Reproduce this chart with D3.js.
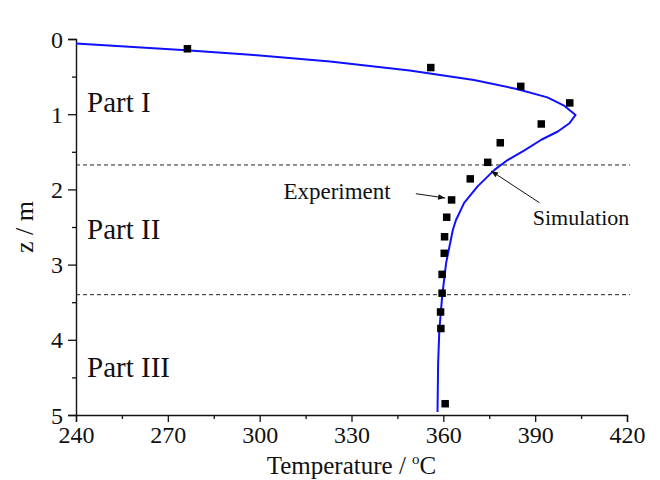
<!DOCTYPE html>
<html>
<head>
<meta charset="utf-8">
<script src="https://cdn.jsdelivr.net/npm/d3@7"></script>
<style>
  html, body { margin: 0; padding: 0; background: #fff; }
  svg text { font-family: "Liberation Serif", "Times New Roman", serif; fill: #111; }
</style>
</head>
<body>
<svg id="chart" width="660" height="480"></svg>
<script>
/* ── Data ───────────────────────────────────────────────────────────────── */
const simT = [240, 276, 297, 323, 349, 370, 384, 394, 399.6, 403.2, 401.2, 397.4, 392,
              386.5, 381, 376.7, 371.2, 366.8, 364.1, 363.1, 360.9, 359.6, 358.7, 358.3, 358.1];
const simZ = [0.06, 0.15, 0.21, 0.30, 0.42, 0.545, 0.665, 0.776, 0.89, 1.01, 1.12, 1.23, 1.34,
              1.48, 1.61, 1.74, 1.96, 2.18, 2.41, 2.54, 2.98, 3.43, 3.87, 4.31, 4.96];

const expT = [276.4, 355.9, 385.3, 401.3, 392.0, 378.6, 374.5, 368.8, 362.7, 361.1,
              360.4, 360.3, 359.6, 359.6, 359.1, 359.2, 360.6];
const expZ = [0.13, 0.38, 0.63, 0.85, 1.13, 1.38, 1.64, 1.86, 2.14, 2.37,
              2.63, 2.85, 3.13, 3.38, 3.63, 3.85, 4.85];

const xTicks = [240, 270, 300, 330, 360, 390, 420];
const xMinor = [255, 285, 315, 345, 375, 405];
const yTicks = [0, 1, 2, 3, 4, 5];
const yMinor = [0.5, 1.5, 2.5, 3.5, 4.5];

const boundaries = [1.675, 3.40];
const partNames = ['Part I', 'Part II', 'Part III'];
const partZ = [0.97, 2.66, 4.49];
const partT = [243.6, 243.6, 243.6];

/* ── Layout ─────────────────────────────────────────────────────────────── */
const SERIF = '"Liberation Serif", "Times New Roman", serif';
const svg = d3.select('#chart');
const x = d3.scaleLinear().domain([240, 420]).range([76, 627]);
const y = d3.scaleLinear().domain([0, 5]).range([39, 415]);
const FONT = 24;

/* arrow marker */
svg.append('defs').append('marker')
  .attr('id', 'arr').attr('viewBox', '0 0 10 10')
  .attr('refX', 10).attr('refY', 5)
  .attr('markerWidth', 9).attr('markerHeight', 7)
  .attr('markerUnits', 'userSpaceOnUse')
  .attr('orient', 'auto')
  .append('path').attr('d', 'M0,1 L10,5 L0,9 Z').attr('fill', '#111');

/* ── Axes ───────────────────────────────────────────────────────────────── */
svg.append('g').attr('transform', `translate(0,${y(5)})`)
  .call(d3.axisBottom(x).tickValues(xTicks).tickSize(7).tickPadding(4).tickFormat(d3.format('d')));
svg.append('g').attr('transform', `translate(0,${y(5)})`)
  .call(d3.axisBottom(x).tickValues(xMinor).tickSize(4).tickFormat(''))
  .select('.domain').remove();

const yAxis = svg.append('g').attr('transform', `translate(${x(240)},0)`)
  .call(d3.axisLeft(y).tickValues(yTicks).tickSize(8).tickPadding(5).tickFormat(d3.format('d')));
svg.append('g').attr('transform', `translate(${x(240)},0)`)
  .call(d3.axisLeft(y).tickValues(yMinor).tickSize(4).tickFormat(''))
  .select('.domain').remove();

svg.selectAll('g').attr('font-family', SERIF).attr('font-size', FONT);
yAxis.attr('font-size', 25);
svg.selectAll('.domain').attr('stroke', '#111').attr('stroke-width', 1.4);
svg.selectAll('.tick line').attr('stroke', '#111').attr('stroke-width', 1.3);
svg.selectAll('.tick text').attr('fill', '#111');
yAxis.selectAll('.tick text').attr('dy', '0.34em');

/* axis titles */
const xt = svg.append('text')
  .attr('x', (x(240) + x(420)) / 2).attr('y', 473.5)
  .attr('text-anchor', 'middle').attr('font-size', 25);
xt.append('tspan').text('Temperature / ');
xt.append('tspan').attr('font-size', 15).attr('dy', -10).text('o');
xt.append('tspan').attr('dy', 10).text('C');

svg.append('text')
  .attr('transform', `translate(33,${(y(0) + y(5)) / 2}) rotate(-90)`)
  .attr('text-anchor', 'middle').attr('font-size', 26)
  .text('z / m');

/* ── Region boundaries ──────────────────────────────────────────────────── */
svg.append('g').selectAll('line').data(boundaries).join('line')
  .attr('x1', x(240)).attr('x2', x(420) + 3)
  .attr('y1', d => y(d)).attr('y2', d => y(d))
  .attr('stroke', '#222').attr('stroke-width', 1)
  .attr('stroke-dasharray', '4,3');

svg.append('g').selectAll('text').data(partNames).join('text')
  .attr('x', (d, i) => x(partT[i])).attr('y', (d, i) => y(partZ[i]))
  .attr('font-size', 29).text(d => d);

/* ── Simulation curve ───────────────────────────────────────────────────── */
const simPts = simT.map((t, i) => [t, simZ[i]]);
svg.append('path')
  .attr('d', d3.line().x(d => x(d[0])).y(d => y(d[1])).curve(d3.curveLinear)(simPts))
  .attr('fill', 'none').attr('stroke', '#1010ff').attr('stroke-width', 2)
  .attr('stroke-linejoin', 'round');

/* ── Experimental points ────────────────────────────────────────────────── */
const S = 7.5;
svg.append('g').selectAll('rect').data(expT.map((t, i) => [t, expZ[i]])).join('rect')
  .attr('x', d => x(d[0]) - S / 2).attr('y', d => y(d[1]) - S / 2)
  .attr('width', S).attr('height', S).attr('fill', '#000');

/* ── Annotations ────────────────────────────────────────────────────────── */
svg.append('text').attr('x', x(342.8)).attr('y', y(2.13))
  .attr('text-anchor', 'end').attr('font-size', 23).text('Experiment');
svg.append('line')
  .attr('x1', x(351.0)).attr('y1', y(2.057)).attr('x2', x(360.6)).attr('y2', y(2.114))
  .attr('stroke', '#111').attr('stroke-width', 1).attr('marker-end', 'url(#arr)');

svg.append('text').attr('x', x(389.2)).attr('y', y(2.47))
  .attr('font-size', 22).text('Simulation');
svg.append('line')
  .attr('x1', x(391.4)).attr('y1', y(2.177)).attr('x2', x(375.6)).attr('y2', y(1.755))
  .attr('stroke', '#111').attr('stroke-width', 1).attr('marker-end', 'url(#arr)');
</script>
</body>
</html>
